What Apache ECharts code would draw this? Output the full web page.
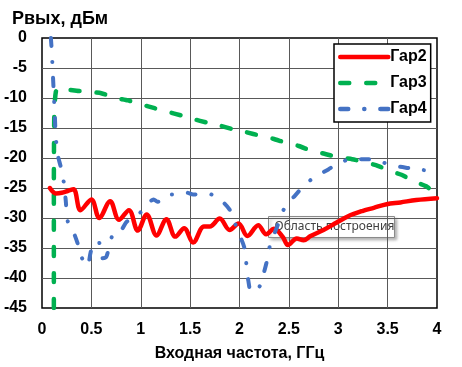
<!DOCTYPE html>
<html><head><meta charset="utf-8">
<script src="https://cdn.jsdelivr.net/npm/echarts@6/dist/echarts.min.js"></script>
<style>html,body{margin:0;padding:0;background:#fff}#c{width:462px;height:367px}</style>
</head><body><div id="c"></div>
<script>
const seriesNames = ['Гар2', 'Гар3', 'Гар4'];
const xTicks = [0, 0.5, 1, 1.5, 2, 2.5, 3, 3.5, 4];
const yTicks = [-45, -40, -35, -30, -25, -20, -15, -10, -5, 0];
const xTitle = 'Входная частота, ГГц';
const yTitle = 'Рвых, дБм';
const hintText = 'Область построения';

const gar2 = [[0.08,-25.0],[0.14,-25.9],[0.2,-25.8],[0.26,-25.5],[0.32,-25.2],[0.39,-28.7],[0.5,-26.9],[0.58,-30],[0.69,-27.2],[0.78,-30.3],[0.88,-28.7],[0.97,-32.1],[1.06,-29.4],[1.16,-32.9],[1.26,-30.2],[1.35,-33.1],[1.44,-31.7],[1.53,-34.1],[1.64,-31.4],[1.70,-31.4],[1.80,-30.1],[1.90,-32.0],[1.99,-30.9],[2.08,-33.0],[2.19,-31.2],[2.27,-32.7],[2.35,-31.8],[2.44,-33.2],[2.49,-34.5],[2.58,-33.4],[2.65,-33.7],[2.72,-33.0],[2.85,-32.0],[2.98,-30.8],[3.1,-29.7],[3.25,-28.8],[3.36,-28.3],[3.49,-27.7],[3.63,-27.4],[3.79,-27.0],[4.0,-26.7]];
const gar3 = [[0.12,-45],[0.12,-25],[0.125,-12],[0.14,-9],[0.17,-8.2],[0.22,-8.5],[0.35,-8.8],[0.48,-9.0],[0.6,-9.2],[0.74,-10.0],[0.87,-10.4],[1.01,-11.1],[1.14,-11.7],[1.27,-12.3],[1.41,-12.9],[1.53,-13.5],[1.67,-14.1],[1.8,-14.6],[1.93,-15.2],[2.07,-15.7],[2.21,-16.3],[2.34,-16.8],[2.46,-17.4],[2.6,-18],[2.73,-18.8],[2.86,-19.3],[3.0,-19.9],[3.14,-20.2],[3.27,-20.7],[3.4,-21.3],[3.53,-22.2],[3.64,-22.8],[3.78,-24],[3.9,-24.8],[4.0,-26.3]];
const gar4 = [[0.09,0],[0.1,-2.5],[0.11,-6],[0.12,-9.5],[0.13,-13],[0.14,-16.5],[0.16,-19.5],[0.19,-21.5],[0.22,-24],[0.24,-27],[0.26,-30.5],[0.31,-32],[0.36,-34.2],[0.4,-36.5],[0.46,-38],[0.5,-35.3],[0.57,-33.8],[0.61,-36.7],[0.65,-36.5],[0.68,-34.7],[0.73,-32.3],[0.8,-32],[0.86,-30.6],[0.97,-29.5],[1.06,-27.9],[1.13,-26.9],[1.17,-27.3],[1.28,-26.1],[1.40,-26.1],[1.47,-25.8],[1.53,-26.1],[1.67,-25.9],[1.8,-26.9],[1.9,-28.6],[1.95,-30.7],[2.0,-32.8],[2.05,-35],[2.07,-37.7],[2.09,-40.5],[2.12,-42.3],[2.19,-41.8],[2.24,-39.5],[2.28,-37],[2.31,-34.5],[2.38,-31.5],[2.46,-28.2],[2.56,-26.3],[2.66,-24.5],[2.76,-23.2],[2.9,-21.9],[3.01,-20.8],[3.15,-20.2],[3.3,-20.2],[3.42,-20.6],[3.57,-21.3],[3.72,-21.7],[3.85,-22.0],[4.0,-22.1]];

const chart = echarts.init(document.getElementById('c'), null, {renderer: 'canvas'});
const font = 'Arial, "Liberation Sans", sans-serif';
chart.setOption({
  animation: false,
  backgroundColor: '#fff',
  grid: {left: 42, right: 25, top: 38, bottom: 59, show: true, borderColor: '#000', borderWidth: 1.5, backgroundColor: 'transparent'},
  title: {text: yTitle, left: 7, top: 5, textStyle: {fontFamily: font, fontWeight: 'bold', fontSize: 18, color: '#000'}},
  legend: {
    orient: 'vertical', left: 334, top: 44, width: 97,
    data: seriesNames,
    backgroundColor: '#fff', borderColor: '#000', borderWidth: 1.5,
    padding: [5, 4, 5, 4], itemGap: 10, itemWidth: 48, itemHeight: 16,
    itemStyle: {opacity: 0},
    lineStyle: {width: 4.5},
    textStyle: {fontFamily: font, fontWeight: 'bold', fontSize: 16, color: '#000', padding: [0,0,0,-3]}
  },
  xAxis: {
    type: 'value', min: 0, max: 4, interval: 0.5,
    name: xTitle, nameLocation: 'middle', nameGap: 38,
    nameTextStyle: {fontFamily: font, fontWeight: 'bold', fontSize: 16, color: '#000'},
    axisLine: {show: false}, axisTick: {show: false},
    axisLabel: {fontFamily: font, fontWeight: 'bold', fontSize: 16, color: '#000', margin: 14,
      formatter: v => xTicks.includes(v) ? String(v) : ''},
    splitLine: {show: true, showMinLine: false, showMaxLine: false, lineStyle: {color: '#595959', width: 1}}
  },
  yAxis: {
    type: 'value', min: -45, max: 0, interval: 5,
    axisLine: {show: false}, axisTick: {show: false},
    axisLabel: {fontFamily: font, fontWeight: 'bold', fontSize: 16, color: '#000', margin: 15,
      formatter: v => yTicks.includes(v) ? String(v) : ''},
    splitLine: {show: true, showMinLine: false, showMaxLine: false, lineStyle: {color: '#595959', width: 1}}
  },
  series: [
    {name: seriesNames[0], type: 'line', data: gar2, showSymbol: false, symbol: 'none', smooth: 0.35, z: 3,
      color: '#FF0000', lineStyle: {color: '#FF0000', width: 4.5, cap: 'round', join: 'round'}},
    {name: seriesNames[1], type: 'line', data: gar3, showSymbol: false, symbol: 'none', smooth: 0.2, z: 2,
      color: '#00B050', lineStyle: {color: '#00B050', width: 4.5, type: [9, 17], cap: 'round', join: 'round'}},
    {name: seriesNames[2], type: 'line', data: gar4, showSymbol: false, symbol: 'none', smooth: 0.3, z: 4,
      color: '#4472C4', lineStyle: {color: '#4472C4', width: 4, type: [8, 16, 0.1, 16], cap: 'round', join: 'round'}}
  ],
  graphic: [{
    type: 'group', left: 268, top: 216, z: 100,
    children: [
      {type: 'rect', shape: {x: 0, y: 0, width: 126, height: 21},
        style: {fill: '#fff', stroke: '#8a8a8a', lineWidth: 1, shadowBlur: 3, shadowOffsetX: 2, shadowOffsetY: 2, shadowColor: 'rgba(0,0,0,0.3)'}},
      {type: 'text', x: 6, y: 10.5, style: {text: hintText, fill: '#404040', font: '12px "Noto Sans", sans-serif', verticalAlign: 'middle'}}
    ]
  }]
});
</script></body></html>
